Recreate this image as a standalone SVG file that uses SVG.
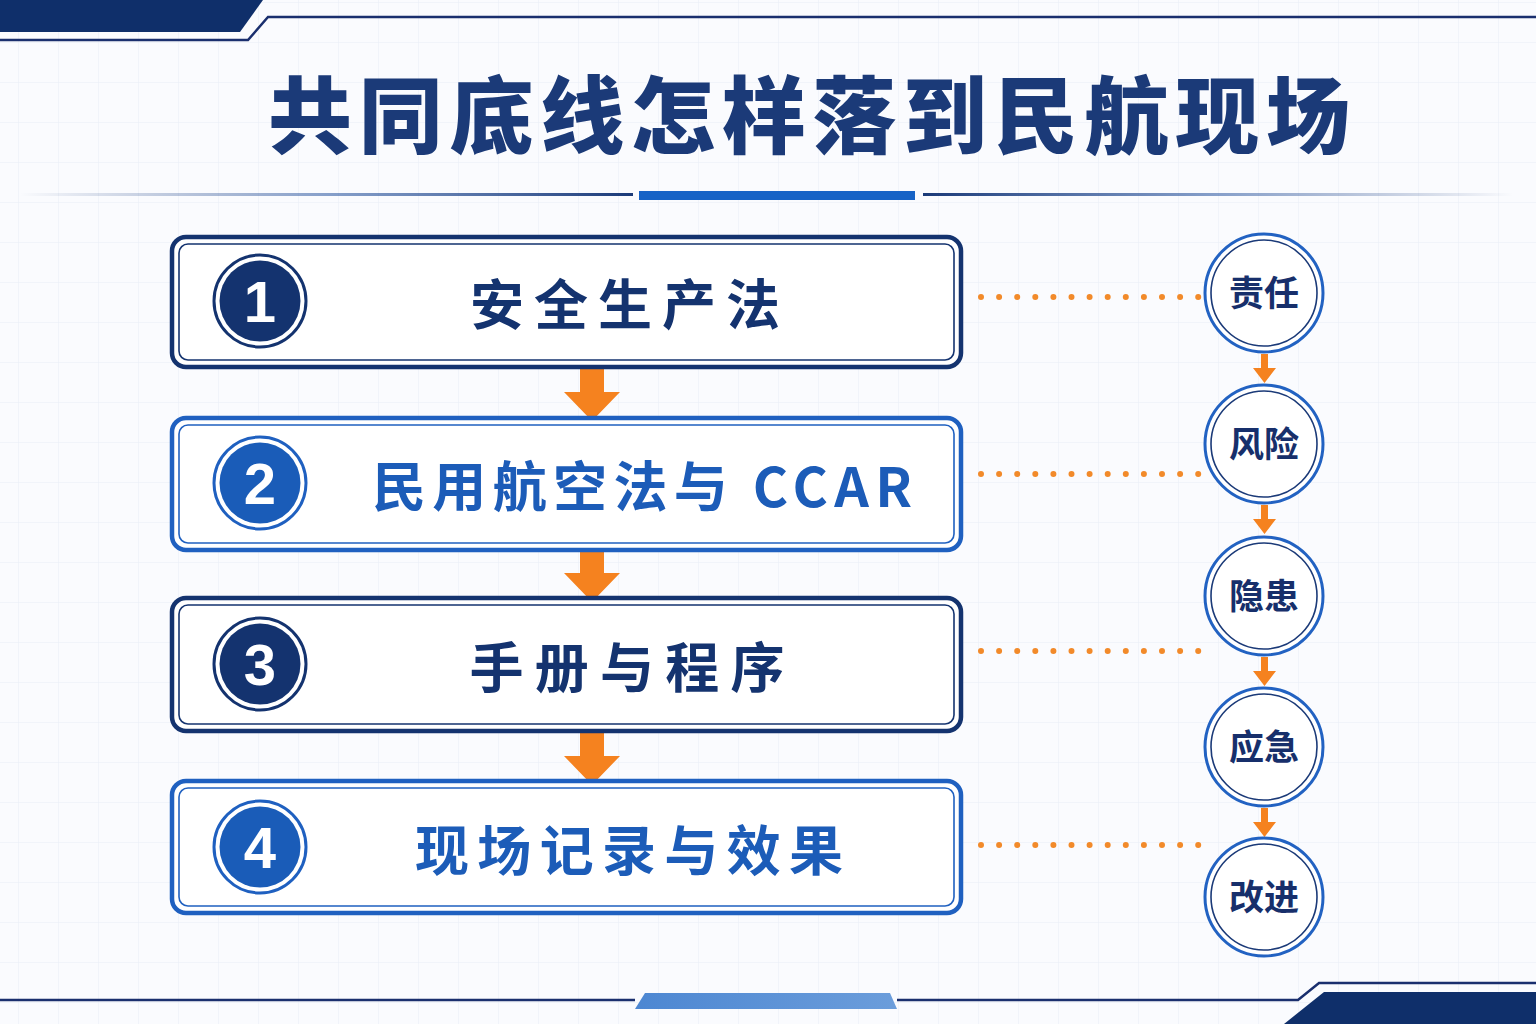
<svg xmlns="http://www.w3.org/2000/svg" width="1536" height="1024" viewBox="0 0 1536 1024">
<defs>
<pattern id="grid" width="40" height="40" patternUnits="userSpaceOnUse" x="18" y="2">
<path d="M40 0H0V40" fill="none" stroke="#e8edf5" stroke-width="1"/>
</pattern>
<linearGradient id="lgL" x1="0" x2="1" y1="0" y2="0">
<stop offset="0" stop-color="#1b3a78" stop-opacity="0"/>
<stop offset="0.5" stop-color="#3a63a8" stop-opacity="0.6"/>
<stop offset="1" stop-color="#1b3a78"/>
</linearGradient>
<linearGradient id="lgR" x1="0" x2="1" y1="0" y2="0">
<stop offset="0" stop-color="#1b3a78"/>
<stop offset="0.5" stop-color="#3a63a8" stop-opacity="0.6"/>
<stop offset="1" stop-color="#1b3a78" stop-opacity="0"/>
</linearGradient>
<linearGradient id="trap" x1="0" x2="1" y1="0" y2="0">
<stop offset="0" stop-color="#4d87d2"/>
<stop offset="1" stop-color="#6b9ddb"/>
</linearGradient>
<marker id="ah" viewBox="0 0 10 10" refX="5" refY="10" markerWidth="10" markerHeight="10" markerUnits="userSpaceOnUse" orient="auto"/>
</defs>
<style>
.navyO{fill:#ffffff;stroke:#14336f;stroke-width:4.5}
.navyI{fill:none;stroke:#14336f;stroke-width:1.6}
.blueO{fill:#ffffff;stroke:#1f60c0;stroke-width:4.5}
.blueI{fill:none;stroke:#1f60c0;stroke-width:1.6}
.lbl{font-family:"Noto Sans CJK SC","Noto Sans",sans-serif;font-weight:700;font-size:54px;text-anchor:middle}
.num{font-family:"Liberation Sans",Arial,sans-serif;font-weight:700;font-size:58px;fill:#ffffff;text-anchor:middle}
.ctext{font-family:"Noto Sans CJK SC","Noto Sans",sans-serif;font-weight:700;font-size:35px;fill:#172f6b;text-anchor:middle}
.dots{stroke:#f28a2a;stroke-width:6;stroke-linecap:round;stroke-dasharray:0 18.1;fill:none}
.arrow{fill:#f5821f}
.cO{fill:#ffffff;stroke:#2262c2;stroke-width:3}
.cI{fill:none;stroke:#1b3a78;stroke-width:1.6}
</style>
<rect width="1536" height="1024" fill="#fafbfe"/>
<rect width="1536" height="1024" fill="url(#grid)"/>

<g id="frame">
<polygon points="0,0 263,0 240,32 0,32" fill="#0f2f6a"/>
<polyline points="0,40 248,40 268,17 1536,17" fill="none" stroke="#1a2f6e" stroke-width="2.5"/>
<polyline points="0,1000 635,1000" fill="none" stroke="#1a2f6e" stroke-width="2.5"/>
<polyline points="897,1000 1298,1000 1319,983 1536,983" fill="none" stroke="#1a2f6e" stroke-width="2.5"/>
<polygon points="645,993 890,993 897,1009 635,1009" fill="url(#trap)"/>
<polygon points="1284,1024 1324,992 1536,992 1536,1024" fill="#0f2f6a"/>
</g>

<g id="title">
<text x="809" y="147" font-family="'Noto Sans CJK SC','Noto Sans',sans-serif" font-weight="900" font-size="84" fill="#1b3a78" text-anchor="middle" textLength="1082" lengthAdjust="spacing">共同底线怎样落到民航现场</text>
<rect x="20" y="193" width="613" height="3" fill="url(#lgL)"/>
<rect x="639" y="191" width="276" height="9" fill="#1763c6"/>
<rect x="923" y="193" width="590" height="3" fill="url(#lgR)"/>
</g>

<g id="connectors">
<path class="arrow" d="M580,368 H604 V392 H620 L592,421 L564,392 H580 Z"/>
<path class="arrow" d="M580,551 H604 V573 H620 L592,602 L564,573 H580 Z"/>
<path class="arrow" d="M580,733 H604 V756 H620 L592,785 L564,756 H580 Z"/>
<line class="dots" x1="981" y1="297" x2="1200" y2="297"/>
<line class="dots" x1="981" y1="474" x2="1200" y2="474"/>
<line class="dots" x1="981" y1="651" x2="1200" y2="651"/>
<line class="dots" x1="981" y1="845" x2="1200" y2="845"/>
<path class="arrow" d="M1261,354 H1268 V368 H1276 L1264.5,383 L1253,368 H1261 Z"/>
<path class="arrow" d="M1261,505 H1268 V519 H1276 L1264.5,534 L1253,519 H1261 Z"/>
<path class="arrow" d="M1261,657 H1268 V671 H1276 L1264.5,686 L1253,671 H1261 Z"/>
<path class="arrow" d="M1261,808 H1268 V822 H1276 L1264.5,837 L1253,822 H1261 Z"/>
</g>

<g id="step1">
<rect class="navyO" x="172" y="237" width="789" height="130" rx="14"/>
<rect class="navyI" x="179" y="244" width="775" height="116" rx="9"/>
<circle cx="260" cy="301" r="46" fill="#ffffff" stroke="#14336f" stroke-width="3"/>
<circle cx="260" cy="301" r="40.5" fill="#14336f"/>
<text class="num" x="260" y="322">1</text>
<text class="lbl" x="625" y="325" fill="#14336f" textLength="310" lengthAdjust="spacing">安全生产法</text>
</g>

<g id="step2">
<rect class="blueO" x="172" y="418" width="789" height="132" rx="14"/>
<rect class="blueI" x="179" y="425" width="775" height="118" rx="9"/>
<circle cx="260" cy="483" r="46" fill="#ffffff" stroke="#1f60c0" stroke-width="3"/>
<circle cx="260" cy="483" r="40.5" fill="#1a5cb8"/>
<text class="num" x="260" y="504">2</text>
<text class="lbl" x="642" y="507" fill="#1c5cb8" textLength="540" lengthAdjust="spacing">民用航空法与 CCAR</text>
</g>

<g id="step3">
<rect class="navyO" x="172" y="598" width="789" height="133" rx="14"/>
<rect class="navyI" x="179" y="605" width="775" height="119" rx="9"/>
<circle cx="260" cy="664" r="46" fill="#ffffff" stroke="#14336f" stroke-width="3"/>
<circle cx="260" cy="664" r="40.5" fill="#14336f"/>
<text class="num" x="260" y="685">3</text>
<text class="lbl" x="627" y="688" fill="#14336f" textLength="315" lengthAdjust="spacing">手册与程序</text>
</g>

<g id="step4">
<rect class="blueO" x="172" y="781" width="789" height="132" rx="14"/>
<rect class="blueI" x="179" y="788" width="775" height="118" rx="9"/>
<circle cx="260" cy="847" r="46" fill="#ffffff" stroke="#1f60c0" stroke-width="3"/>
<circle cx="260" cy="847" r="40.5" fill="#1a5cb8"/>
<text class="num" x="260" y="868">4</text>
<text class="lbl" x="629" y="871" fill="#1c5cb8" textLength="428" lengthAdjust="spacing">现场记录与效果</text>
</g>

<g id="c1"><circle class="cO" cx="1264" cy="293" r="59"/><circle class="cI" cx="1264" cy="293" r="53"/><text class="ctext" x="1264" y="306">责任</text></g>
<g id="c2"><circle class="cO" cx="1264" cy="444" r="59"/><circle class="cI" cx="1264" cy="444" r="53"/><text class="ctext" x="1264" y="457">风险</text></g>
<g id="c3"><circle class="cO" cx="1264" cy="596" r="59"/><circle class="cI" cx="1264" cy="596" r="53"/><text class="ctext" x="1264" y="609">隐患</text></g>
<g id="c4"><circle class="cO" cx="1264" cy="747" r="59"/><circle class="cI" cx="1264" cy="747" r="53"/><text class="ctext" x="1264" y="760">应急</text></g>
<g id="c5"><circle class="cO" cx="1264" cy="897" r="59"/><circle class="cI" cx="1264" cy="897" r="53"/><text class="ctext" x="1264" y="910">改进</text></g>
</svg>
